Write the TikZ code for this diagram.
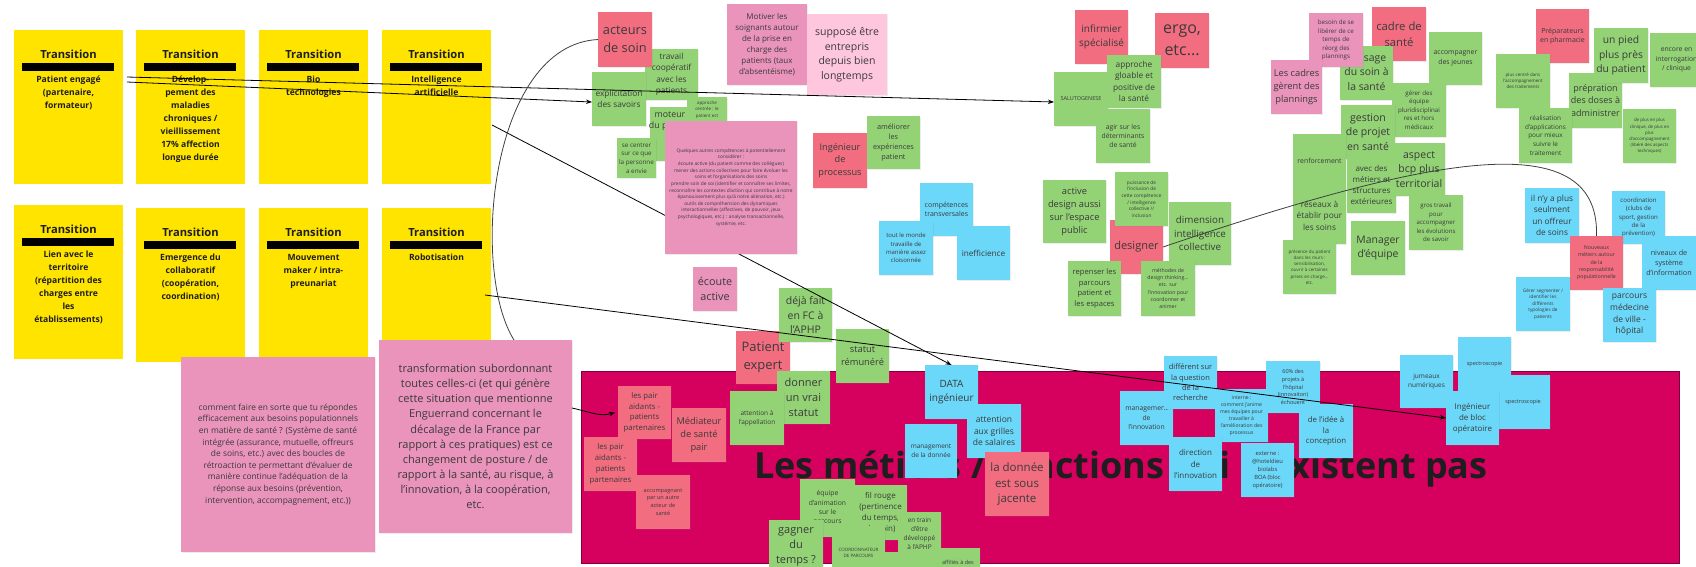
\documentclass[tikz,border=0pt]{standalone}
\usepackage{fontspec}
\setmainfont{Open Sans}
\usetikzlibrary{arrows.meta,shadows}
\definecolor{cyel}{HTML}{FFE400}
\definecolor{cred}{HTML}{F26D80}
\definecolor{cgreen}{HTML}{93D376}
\definecolor{cblue}{HTML}{6BD8FA}
\definecolor{cpink}{HTML}{EA94BB}
\definecolor{clpink}{HTML}{FFC7DD}
\definecolor{cmag}{HTML}{D6005F}
\definecolor{ctext}{HTML}{3A3A3A}
\definecolor{ctitle}{HTML}{1E1E1E}
\tikzset{
  notebox/.style={inner sep=0pt,outer sep=0pt,drop shadow={shadow xshift=0.7pt,shadow yshift=-1.2pt,opacity=0.14}},
  notetext/.style={inner sep=0pt,align=center,text=ctext},
  nred/.style={fill=cred},
  ngreen/.style={fill=cgreen},
  nblue/.style={fill=cblue},
  npink/.style={fill=cpink},
  nlpink/.style={fill=clpink},
  ybox/.style={fill=cyel,inner sep=0pt,outer sep=0pt},
  ytitle/.style={inner sep=0pt,text=ctitle,font=\bfseries\fontsize{11.2}{13}\selectfont},
  ybody/.style={inner sep=0pt,anchor=north,align=center,text=ctitle,font=\bfseries\fontsize{8.6}{13}\selectfont},
  ybar/.style={fill=black},
  conn/.style={draw=black,line width=0.8pt,-{Stealth[length=6pt,width=4.5pt]}},
  curv/.style={draw=black!75,line width=0.8pt},
}
\newcommand\note[8]{%
  \pgfmathsetmacro\nnW{#5-#3}\pgfmathsetmacro\nnH{#6-#4}%
  \pgfmathsetmacro\nnX{(#3+#5)/2}\pgfmathsetmacro\nnY{(#4+#6)/2}%
  \pgfmathsetmacro\nnL{#7*1.38}%
  \node[notebox,#2,minimum width=\nnW pt,minimum height=\nnH pt] (#1) at (\nnX,\nnY) {};
  \node[notetext,font=\fontsize{#7}{\nnL}\selectfont] (#1-t) at (#1.center) {#8};}
\newcommand\ybx[6]{%
  \pgfmathsetmacro\nnW{#4-#2}\pgfmathsetmacro\nnH{#5-#3}%
  \pgfmathsetmacro\nnX{(#2+#4)/2}\pgfmathsetmacro\nnY{(#3+#5)/2}%
  \pgfmathsetmacro\yyT{#3+24}\pgfmathsetmacro\yyA{#3+33}\pgfmathsetmacro\yyB{#3+41}%
  \pgfmathsetmacro\yyC{#3+46}\pgfmathsetmacro\xxA{#2+8}\pgfmathsetmacro\xxB{#4-9}%
  \node[ybox,minimum width=\nnW pt,minimum height=\nnH pt] (#1) at (\nnX,\nnY) {};
  \node[ytitle] (#1-t) at (\nnX,\yyT) {Transition};
  \fill[ybar] (\xxA,\yyA) rectangle (\xxB,\yyB);
  \node[ybody] (#1-b) at (\nnX,\yyC) {#6};}
\begin{document}
\begin{tikzpicture}[x=1pt,y=-1pt]
\useasboundingbox (0,0) rectangle (1696,566);
\clip (0,0) rectangle (1696,566);
\fill[white] (0,0) rectangle (1696,566);

% yellow transitions
\ybx{ya}{14}{30}{123}{184}{Patient engagé\\(partenaire,\\formateur)}
\ybx{yb}{136}{30}{245}{184}{Dévelop-\\pement des\\maladies\\chroniques /\\vieillissement\\17\% affection\\longue durée}
\ybx{yc}{259}{30}{368}{184}{Bio\\technologies}
\ybx{yd}{382}{30}{491}{184}{Intelligence\\artificielle}
\ybx{ye}{14}{205}{123}{359}{Lien avec le\\territoire\\(répartition des\\charges entre\\les\\établissements)}
\ybx{yf}{136}{208}{245}{362}{Emergence du\\collaboratif\\(coopération,\\coordination)}
\ybx{yg}{259}{208}{368}{362}{Mouvement\\maker / intra-\\preunariat}
\ybx{yh}{382}{208}{491}{362}{Robotisation}

% magenta frame
\node[fill=cmag,draw=cmag!60!black,line width=0.6pt,inner sep=0pt,minimum width=1098pt,minimum height=192pt] (frame) at (1130,467) {};
\node[anchor=base west,inner sep=0pt,text=ctitle,font=\bfseries\fontsize{36}{40}\selectfont] (title) at (754,478) {Les métiers / fonctions qui n'existent pas};

% top-left cluster
\note{travail}{ngreen}{645}{49}{698}{100}{8.3}{travail\\coopératif\\avec les\\patients}
\note{acteurs}{nred}{598}{12}{652}{67}{12.8}{acteurs\\de soin}
\note{expl}{ngreen}{592}{72}{646}{126}{8.3}{explicitation\\des savoirs}
\node[notebox,ngreen,minimum width=54pt,minimum height=54pt] (moteur) at (677,134) {};
\node[notetext,anchor=north,font=\fontsize{8.8}{11.5}\selectfont] (moteur-t) at (670,111) {moteur\\du patient\\de};
\node[notebox,ngreen,minimum width=40pt,minimum height=44pt] (apc) at (707,119) {};
\node[notetext,anchor=north,font=\fontsize{4.5}{6.3}\selectfont] (apc-t) at (707,101) {approche\\centrée : le\\patient est};
\note{secentrer}{ngreen}{617}{138}{656}{178}{6.3}{se centrer\\sur ce que\\la personne\\a envie}
\note{motiver}{npink}{727}{4}{807}{85}{8}{Motiver les\\soignants autour\\de la prise en\\charge des\\patients (taux\\d'absentéisme)}
\note{suppose}{nlpink}{807}{14}{887}{95}{10.5}{supposé être\\entrepris\\depuis bien\\longtemps}
\note{ingproc}{nred}{813}{133}{867}{188}{9.2}{Ingénieur\\de\\processus}
\note{ameliorer}{ngreen}{867}{116}{920}{169}{7.3}{améliorer\\les\\expériences\\patient}
\note{comptrans}{nblue}{920}{183}{973}{236}{7}{compétences\\transversales}
\note{toutmonde}{nblue}{879}{221}{933}{275}{6}{tout le monde\\travaille de\\manière assez\\cloisonnée}
\note{ineff}{nblue}{957}{226}{1010}{280}{8.2}{inefficience}

% middle-top cluster
\note{infirmier}{nred}{1075}{10}{1128}{64}{10}{infirmier\\spécialisé}
\note{ergo}{nred}{1155}{13}{1209}{68}{16}{ergo,\\etc...}
\note{salut}{ngreen}{1054}{72}{1108}{126}{5.5}{SALUTOGENESE}
\note{approcheg}{ngreen}{1107}{55}{1161}{108}{8.3}{approche\\gloable et\\positive de\\la santé}
\note{agir}{ngreen}{1096}{109}{1150}{163}{6.8}{agir sur les\\déterminants\\de santé}
\note{active}{ngreen}{1043}{180}{1106}{243}{9.3}{active\\design aussi\\sur l'espace\\public}
\note{designer}{nred}{1110}{220}{1163}{274}{11}{designer}
\note{puissance}{ngreen}{1115}{172}{1168}{226}{4.8}{puissance de\\l'inclusion de\\cette compétence\\/ intelligence\\collective //\\inclusion}
\note{dimension}{ngreen}{1169}{202}{1231}{265}{9.8}{dimension\\intelligence\\collective}
\note{repenser}{ngreen}{1068}{261}{1121}{316}{7.6}{repenser les\\parcours\\patient et\\les espaces}
\note{methodes}{ngreen}{1141}{261}{1195}{316}{5.2}{méthodes de\\design thinking...\\etc. sur\\l'innovation pour\\coordonner et\\animer}

% right cluster
\note{cadre}{nred}{1372}{7}{1426}{61}{11.3}{cadre de\\santé}
\note{passage}{ngreen}{1340}{46}{1393}{100}{10.4}{passage\\du soin à\\la santé}
\note{besoin}{npink}{1309}{13}{1363}{67}{6.2}{besoin de se\\libérer de ce\\temps de\\réorg des\\plannings}
\note{lescadres}{npink}{1271}{60}{1322}{114}{9.3}{Les cadres\\gèrent des\\plannings}
\note{accomp}{ngreen}{1429}{32}{1482}{85}{6.9}{accompagner\\des jeunes}
\note{gerer}{ngreen}{1392}{83}{1446}{137}{6.2}{gérer des\\équipe\\pluridisciplinai\\res et hors\\médicaux}
\note{gestion}{ngreen}{1341}{105}{1395}{159}{10.5}{gestion\\de projet\\en santé}
\note{renfo}{ngreen}{1293}{134}{1346}{188}{6.9}{renforcement}
\note{avec}{ngreen}{1347}{157}{1396}{213}{8}{avec des\\métiers et\\structures\\extérieures}
\note{aspect}{ngreen}{1393}{143}{1445}{196}{10.5}{aspect\\bcp plus\\territorial}
\note{reseaux}{ngreen}{1293}{187}{1346}{244}{8.3}{réseaux à\\établir pour\\les soins}
\note{presence}{ngreen}{1283}{240}{1336}{294}{4.5}{présence du patient\\dans les murs :\\sensibilisation,\\ouvrir à certaines\\prises en charge...\\etc.}
\note{manager}{ngreen}{1351}{221}{1405}{275}{10.4}{Manager\\d'équipe}
\note{gros}{ngreen}{1409}{195}{1463}{250}{6.1}{gros travail\\pour\\accompagner\\les évolutions\\de savoir}

% pharmacy cluster
\note{prep}{nred}{1536}{9}{1589}{63}{7}{Préparateurs\\en pharmacie}
\note{prepration}{ngreen}{1569}{73}{1622}{128}{9}{prépration\\des doses à\\administrer}
\note{unpied}{ngreen}{1594}{28}{1648}{83}{10.3}{un pied\\plus près\\du patient}
\note{encore}{ngreen}{1650}{33}{1703}{87}{6.8}{encore en\\interrogation\\/ clinique}
\note{pluscentre}{ngreen}{1496}{54}{1550}{108}{4.5}{plus centré dans\\l'accompagnement\\des traitements}
\note{realisation}{ngreen}{1519}{108}{1572}{163}{6.4}{réalisation\\d'applications\\pour mieux\\suivre le\\traitement}
\note{deplus}{ngreen}{1623}{109}{1676}{163}{4.4}{de plus en plus\\clinique, de plus en\\plus\\d'accompagnement\\(libéré des aspects\\techniques)}

% population cluster
\note{ilnya}{nblue}{1525}{188}{1579}{243}{8.3}{il n'y a plus\\seulment\\un offreur\\de soins}
\note{coordination}{nblue}{1612}{191}{1665}{244}{6.1}{coordination\\(clubs de\\sport, gestion\\de la\\prévention)}
\note{nouveaux}{nred}{1570}{236}{1623}{290}{5.3}{Nouveaux\\métiers autour\\de la\\responsabilité\\populationnelle}
\note{niveaux}{nblue}{1642}{236}{1696}{290}{7.2}{niveaux de\\système\\d'information}
\note{gerers}{nblue}{1516}{277}{1570}{331}{4.7}{Gérer segmenter /\\identifier les\\différents\\typologies de\\patients}
\note{parcours}{nblue}{1603}{288}{1656}{342}{8.5}{parcours\\médecine\\de ville -\\hôpital}

% pink texts
\note{ecoute}{npink}{693}{267}{737}{311}{10.8}{écoute\\active}
\note{comment}{npink}{181}{357}{375}{552}{8.4}{comment faire en sorte que tu répondes\\efficacement aux besoins populationnels\\en matière de santé ? (Système de santé\\intégrée (assurance, mutuelle, offreurs\\de soins, etc.) avec des boucles de\\rétroaction te permettant d'évaluer de\\manière continue l'adéquation de la\\réponse aux besoins (prévention,\\intervention, accompagnement, etc.))}
\note{transfo}{npink}{379}{340}{572}{533}{11}{transformation subordonnant\\toutes celles-ci (et qui génère\\cette situation que mentionne\\Enguerrand concernant le\\décalage de la France par\\rapport à ces pratiques) est ce\\changement de posture / de\\rapport à la santé, au risque, à\\l'innovation, à la coopération,\\etc.}

% inside the frame
\note{pair1}{nred}{618}{386}{671}{439}{7.8}{les pair\\aidants -\\patients\\partenaires}
\note{mediateur}{nred}{672}{408}{726}{462}{9.3}{Médiateur\\de santé\\pair}
\note{pair2}{nred}{584}{437}{637}{491}{7.8}{les pair\\aidants -\\patients\\partenaires}
\note{accompagnant}{nred}{636}{475}{690}{529}{5.6}{accompagnant\\par un autre\\acteur de\\santé}
\note{patexp}{nred}{736}{331}{790}{384}{13}{Patient\\expert}
\note{dejafait}{ngreen}{779}{288}{832}{342}{10.5}{déjà fait\\en FC à\\l'APHP}
\note{statut}{ngreen}{836}{329}{889}{383}{9.3}{statut\\rémunéré}
\note{donner}{ngreen}{777}{371}{830}{424}{11}{donner\\un vrai\\statut}
\note{attappel}{ngreen}{730}{391}{784}{445}{6.5}{attention à\\l'appellation}
\note{data}{nblue}{925}{365}{978}{419}{10}{DATA\\ingénieur}
\note{attgrilles}{nblue}{967}{404}{1021}{458}{8.5}{attention\\aux grilles\\de salaires}
\note{mgmtdonnee}{nblue}{905}{424}{957}{478}{6.5}{management\\de la donnée}
\note{donnee}{nred}{985}{452}{1049}{516}{11.5}{la donnée\\est sous\\jacente}
\note{mgmtinno}{nblue}{1120}{391}{1173}{445}{6.8}{management\\de\\l'innovation}
\note{different}{nblue}{1164}{356}{1217}{409}{7.5}{différent sur\\la question\\de la\\recherche}
\note{interne}{nblue}{1215}{389}{1268}{442}{5.1}{interne :\\comment j'anime\\mes équipes pour\\travailler à\\l'amélioration des\\processus}
\note{direction}{nblue}{1169}{437}{1222}{491}{8}{direction\\de\\l'innovation}
\note{externe}{nblue}{1241}{443}{1294}{497}{5.8}{externe :\\@hoteldieu\\biolabs\\BOA (bloc\\opératoire)}
\note{sixty}{nblue}{1266}{361}{1320}{413}{5.5}{60\% des\\projets à\\l'hôpital\\(innovaiton)\\échouent}
\note{idee}{nblue}{1299}{404}{1353}{458}{7.8}{de l'idée à\\la\\conception}
\note{jumeaux}{nblue}{1400}{355}{1453}{408}{6.5}{jumeaux\\numériques}
\note{spectroa}{nblue}{1458}{337}{1511}{391}{5.5}{spectroscopie}
\note{spectrob}{nblue}{1496}{375}{1550}{429}{5.5}{spectroscopie}
\note{ingbloc}{nblue}{1446}{391}{1499}{445}{8}{Ingénieur\\de bloc\\opératoire}
\note{equipe}{ngreen}{800}{479}{855}{537}{6.8}{équipe\\d'animation\\sur le\\parcours}
\note{filrouge}{ngreen}{854}{485}{907}{540}{8}{fil rouge\\(pertinence\\du temps,\\du soin)}
\note{gagner}{ngreen}{769}{520}{823}{574}{11}{gagner\\du\\temps ?}
\note{coordo}{ngreen}{832}{526}{885}{580}{4.5}{COORDONNATEUR\\DE PARCOURS}
\note{entrain}{ngreen}{898}{512}{941}{556}{6.5}{en train\\d'être\\développé\\à l'APHP}
\node[notebox,ngreen,minimum width=53pt,minimum height=48pt] (gblank) at (909.5,576) {};
\note{affilies}{ngreen}{936}{548}{980}{576}{5.5}{affiliés à des}

% connectors
\coordinate (pA) at (127,77);
\coordinate (pB) at (127,82);
\coordinate (pC) at (492,125);
\coordinate (pD) at (485,295);
\coordinate (pE) at (572,408);
\coordinate (cEnd) at (514,340);
\draw[conn] (pC) -- (data.north);
\note{quelques}{npink}{665}{121}{797}{254}{4.8}{Quelques autres compétences à potentiellement\\considérer :\\écoute active (du patient comme des collègues)\\mener des actions collectives pour faire évoluer les\\soins et l'organisations des soins\\prendre soin de soi (identifier et connaître ses limites,\\reconnaître les contextes d'action qui contribue à notre\\épanouissement plus qu'à notre aliénation, etc.)\\outils de compréhension des dynamiques\\interactionnelles (affectives, de pouvoir, jeux\\psychologiques, etc.) : analyse transactionnelle,\\systémie, etc.}
\draw[conn] (pA) -- ([yshift=-3pt]salut.west);
\draw[conn] (pB) -- ([yshift=-3pt]expl.west);
\draw[conn] (pD) -- (ingbloc.west);
\draw[conn] (pE) .. controls (590,412) and (600,417) .. ([xshift=-3pt]pair1.west);
\draw[curv] (acteurs.west) .. controls (490,45) and (470,270) .. (cEnd);
\draw[curv] (designer.east) .. controls (1420,160) and (1600,120) .. (nouveaux.north);
\end{tikzpicture}
\end{document}
